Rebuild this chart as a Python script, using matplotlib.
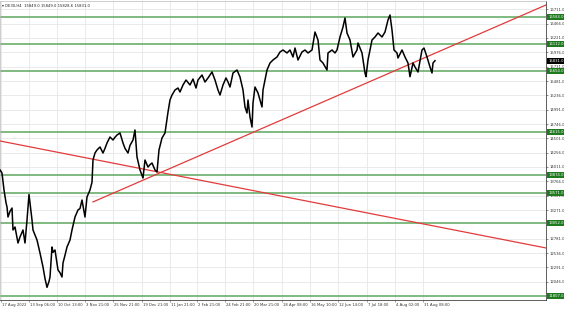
import matplotlib.pyplot as plt
import matplotlib.transforms as mtransforms

# price trace (x = bar position on the time axis, y = price)
bar_pos = [0, 2, 4, 6, 7, 8, 10, 12, 13, 15, 18, 20, 23, 25, 27, 29, 32, 33, 37, 40,
           43, 45, 47, 49, 50, 52, 53, 55, 58, 60, 62, 63, 65, 67, 70, 72, 75, 78, 80, 82,
           85, 87, 90, 92, 93, 95, 97, 100, 103, 105, 107, 110, 113, 115, 117, 120, 123, 125, 128, 130,
           133, 135, 137, 140, 143, 145, 148, 150, 152, 155, 157, 159, 162, 165, 168, 170, 172, 175, 178, 180,
           183, 186, 190, 193, 196, 198, 202, 205, 208, 212, 215, 218, 220, 223, 226, 228, 230, 233, 237, 240,
           243, 245, 247, 248, 250, 252, 253, 255, 258, 262, 263, 267, 270, 273, 277, 280, 283, 287, 290, 293,
           295, 298, 302, 305, 308, 312, 315, 318, 320, 323, 327, 328, 332, 335, 337, 340, 343, 345, 347, 350,
           353, 357, 358, 362, 365, 366, 368, 372, 375, 378, 382, 385, 388, 390, 392, 394, 397, 398, 402, 405,
           408, 410, 413, 415, 418, 422, 424, 427, 430, 432, 433, 435]
close = [13960, 13908, 13617, 13400, 13326, 13154, 13250, 13308, 12932, 12983, 12709, 12812, 12932, 12709, 13100, 13540, 13103, 12932, 12760, 12538,
         12298, 12100, 11950, 12050, 12127, 12641, 12550, 12589, 12247, 12200, 12127, 12367, 12500, 12641, 12760, 12932, 13154, 13274, 13300, 13445,
         13154, 13497, 13617, 13750, 14130, 14250, 14302, 14353, 14250, 14330, 14421, 14524, 14473, 14520, 14558, 14593, 14421, 14330, 14250, 14380,
         14473, 14644, 14182, 13959, 13822, 14130, 14010, 14050, 14079, 13959, 13925, 14302, 14507, 14593, 14950, 15158, 15243, 15329, 15363, 15295,
         15415, 15500, 15415, 15517, 15363, 15500, 15586, 15466, 15535, 15637, 15500, 15329, 15243, 15415, 15535, 15466, 15380, 15620, 15671, 15552,
         15329, 15038, 14935, 15158, 14867, 14695, 15106, 15380, 15278, 15038, 15329, 15671, 15791, 15843, 15894, 15980, 16014, 15963, 16014, 15894,
         16048, 15843, 15980, 16014, 15963, 16014, 16322, 16185, 15843, 15791, 15671, 15963, 16014, 15963, 16014, 16237, 16408, 16562, 16305, 16185,
         15894, 16014, 16134, 15963, 15620, 15557, 15843, 16185, 16237, 16305, 16237, 16322, 16528, 16613, 16357, 16014, 15963, 15877, 16014, 15894,
         15791, 15557, 15791, 15723, 15637, 16014, 16048, 15894, 15723, 15620, 15791, 15831]

# support / resistance levels (green) and trend lines (red)
levels = [16584.0, 16112.0, 15654.0, 14615.0, 13874.0, 13571.0, 13052.0, 11807.0]
trend_down = ([0, 546], [14456, 12624])
trend_up = ([93, 546], [13412, 16785])
last_price = 15831.0

price_ticks = [16711.0, 16466.0, 16221.0, 15976.0, 15731.0, 15481.0, 15236.0, 14991.0, 14746.0,
               14501.0, 14256.0, 14011.0, 13766.0, 13521.0, 13271.0, 12781.0, 12536.0, 12291.0, 12046.0]
date_pos = [1, 29, 57, 85, 113, 142, 170, 197, 225, 253, 282, 310, 338, 367, 395, 423]
date_labels = ['17 Aug 2022', '13 Sep 06:00', '10 Oct 13:00', '3 Nov 21:00', '25 Nov 21:00',
               '19 Dec 21:00', '11 Jan 21:00', '2 Feb 21:00', '24 Feb 21:00', '20 Mar 21:00',
               '18 Apr 08:00', '16 May 10:00', '12 Jun 14:00', '7 Jul 18:00', '4 Aug 02:00',
               '31 Aug 08:00']

W, H = 564, 309
fig = plt.figure(figsize=(W / 100, H / 100), dpi=100)
fig.patch.set_facecolor('white')
ax = fig.add_axes([0, 9 / H, 546 / W, 299 / H])
ax.set_xlim(0, 546)
ax.set_ylim(11733, 16853)

grid_c = '#e6e6e6'
for p in date_pos:
    ax.axvline(p, color=grid_c, lw=0.6, zorder=0)
for t in price_ticks:
    ax.axhline(t, color=grid_c, lw=0.6, zorder=0)

for lv in levels:
    ax.axhline(lv, color='#5ea85e', lw=1.1, zorder=2)

ax.plot(*trend_down, color='#e23b3b', lw=0.9, zorder=3)
ax.plot(*trend_up, color='#e23b3b', lw=0.9, zorder=3)
ax.plot(bar_pos, close, color='black', lw=1.1, zorder=4)

fs = 2.7
ax.yaxis.tick_right()
ax.set_yticks(price_ticks)
ax.set_yticklabels([f'{t:.1f}' for t in price_ticks])
ax.tick_params(axis='y', labelsize=fs, length=1.5, width=0.4, pad=1.2, colors='#333333')
ax.set_xticks(date_pos)
ax.set_xticklabels([])
ax.tick_params(axis='x', length=1.5, width=0.4, colors='#555555')
for p, lab in zip(date_pos, date_labels):
    ax.text(p + 1, -0.01, lab, transform=ax.get_xaxis_transform(), fontsize=fs,
            ha='left', va='top', color='#333333', clip_on=False)

for side in ['top', 'left']:
    ax.spines[side].set_color('#bbbbbb')
    ax.spines[side].set_linewidth(0.5)
for side in ['right', 'bottom']:
    ax.spines[side].set_color('#444444')
    ax.spines[side].set_linewidth(0.6)

trans = mtransforms.blended_transform_factory(ax.transAxes, ax.transData)
for lv in levels:
    ax.text(1.004, lv, f'{lv:.1f}', transform=trans, fontsize=fs, color='white',
            ha='left', va='center', clip_on=False, zorder=6,
            bbox=dict(boxstyle='square,pad=0.3', fc='#1f7a1f', ec='none'))
ax.text(1.004, last_price, f'{last_price:.1f}', transform=trans, fontsize=fs, color='white',
        ha='left', va='center', clip_on=False, zorder=6,
        bbox=dict(boxstyle='square,pad=0.3', fc='black', ec='none'))

ax.text(0.004, 0.99, '\u25be DE30,H4  15849.0 15849.0 15828.6 15831.0', transform=ax.transAxes,
        fontsize=fs, ha='left', va='top', color='#222222')

fig.savefig('out.png', dpi=100)
